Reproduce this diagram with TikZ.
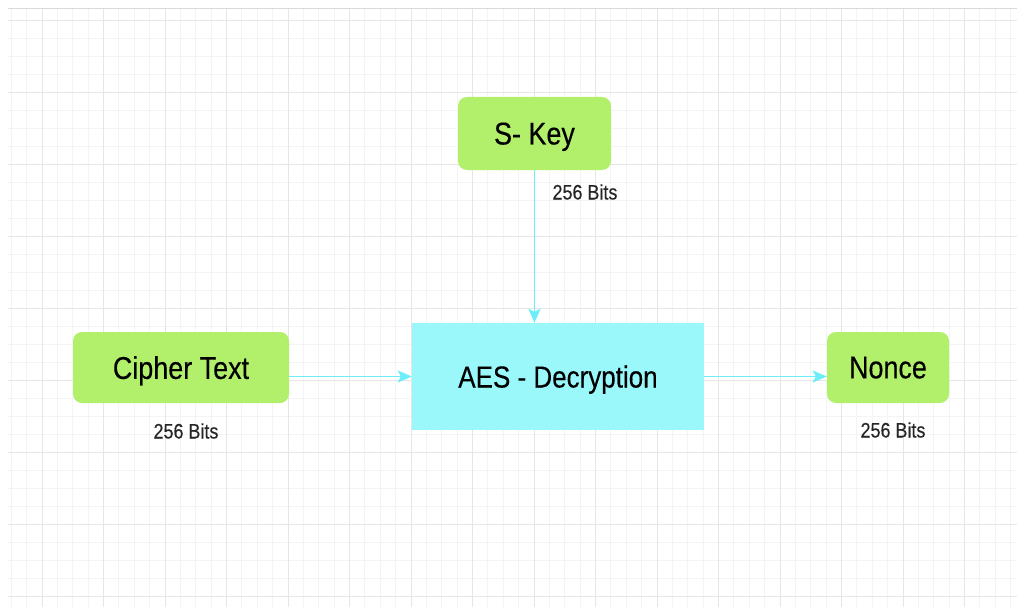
\documentclass[tikz,border=0pt]{standalone}
\usepackage{fontspec}
\setmainfont{Liberation Sans}[FakeStretch=0.855,FakeBold=0.3]
\usetikzlibrary{arrows.meta,positioning}
\definecolor{keygreen}{HTML}{B2F06C}
\definecolor{aescyan}{HTML}{9AF8FB}
\definecolor{flowcyan}{HTML}{6CEEF8}
\definecolor{gridminor}{HTML}{F4F4F4}
\definecolor{gridmajor}{HTML}{E6E6E6}

\begin{document}
\begin{tikzpicture}[x=1pt, y=-1pt,
    block/.style={fill=keygreen, rounded corners=9pt, inner sep=0pt, text depth=0pt, font=\fontsize{31.5}{34}\selectfont},
    aesbox/.style={fill=aescyan, inner sep=0pt, text depth=0pt, minimum width=292pt, minimum height=107pt, font=\fontsize{30.4}{33}\selectfont},
    bits/.style={text=black!85, inner sep=0pt, font=\fontsize{21}{23}\selectfont},
    flow/.style={flowcyan, line width=1.8pt, -{Stealth[length=14pt,width=12pt,inset=3pt]}}]
    \useasboundingbox (0,0) rectangle (1017,607);
    \fill[white] (0,0) rectangle (1017,607);
    % grid
    \foreach \i in {0,...,65} \draw[gridminor, line width=0.8pt] ({11.25+15.375*\i},8) -- ({11.25+15.375*\i},607);
    \foreach \j in {0,...,32} \draw[gridminor, line width=0.8pt] (8,{20+18*\j}) -- (1017,{20+18*\j});
    \foreach \i in {0,...,15} \draw[gridmajor, line width=0.8pt] ({42+61.5*\i},8) -- ({42+61.5*\i},607);
    \foreach \j in {0,...,8} \draw[gridmajor, line width=0.8pt] (8,{20+72*\j}) -- (1017,{20+72*\j});
    \draw[gray!30, line width=0.8pt] (8,8) -- (1017,8);
    %
    \node[block, minimum width=153pt, minimum height=73pt] (skey) at (534.5,133.5) {S- Key};
    \node[block, minimum width=216pt, minimum height=71pt] (cipher) at (181,367.5) {Cipher Text};
    \node[aesbox] (aes) at (558,376.5) {AES - Decryption};
    \node[block, minimum width=122pt, minimum height=71pt] (nonce) at (888,367.5) {Nonce};
    \node[bits] (keybits) at (585,192) {256 Bits};
    \node[bits] (cipherbits) at (186,431) {256 Bits};
    \node[bits] (noncebits) at (893,430) {256 Bits};
    %
    \draw[flow] (skey) -- (skey |- aes.north);
    \draw[flow] (cipher.east |- aes) -- (aes.west);
    \draw[flow] (aes.east) -- (aes.east -| nonce.west);
\end{tikzpicture}
\end{document}
